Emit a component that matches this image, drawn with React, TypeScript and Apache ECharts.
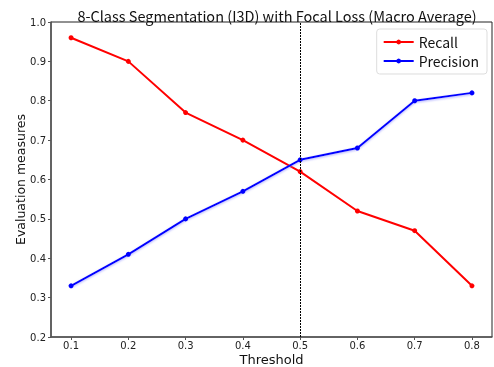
import React, { useEffect, useRef } from "react";
import * as echarts from "echarts";

const thresholds = [0.1, 0.2, 0.3, 0.4, 0.5, 0.6, 0.7, 0.8];
const recall = [0.96, 0.9, 0.77, 0.7, 0.62, 0.52, 0.47, 0.33];
const precision = [0.33, 0.41, 0.5, 0.57, 0.65, 0.68, 0.8, 0.82];
const xTicks = [0.1, 0.2, 0.3, 0.4, 0.5, 0.6, 0.7, 0.8];
const markerX = 0.5;

const FONT = "Noto Sans CJK JP";
const AXIS_FONT = "DejaVu Sans";

export default function App() {
  const ref = useRef<HTMLDivElement>(null);
  useEffect(() => {
    const chart = echarts.init(ref.current!, null, { renderer: "svg" });
    const pair = (ys: number[]) => thresholds.map((x, i) => [x, ys[i]]);
    chart.setOption({
      animation: false,
      textStyle: { fontFamily: FONT },
      title: {
        text: "8-Class Segmentation (I3D) with Focal Loss (Macro Average)",
        left: 272,
        textAlign: "center",
        top: 3,
        textStyle: { fontFamily: FONT, fontSize: 14.5, fontWeight: "normal", color: "#111" },
      },
      grid: {
        left: 51,
        right: 2,
        top: 22,
        bottom: 30,
        containLabel: false,
        outerBoundsMode: "none",
        show: true,
        borderColor: "#222",
        borderWidth: 1,
      },
      legend: {
        right: 7,
        top: 29,
        orient: "vertical",
        itemWidth: 30,
        itemHeight: 6,
        itemGap: 5,
        padding: [6, 8, 6, 6],
        borderColor: "#ddd",
        borderWidth: 1,
        borderRadius: 3,
        textStyle: { fontFamily: FONT, fontSize: 14, color: "#111" },
        data: ["Recall", "Precision"],
      },
      xAxis: {
        type: "value",
        min: 0.065,
        max: 0.835,
        name: "Threshold",
        nameLocation: "middle",
        nameGap: 22,
        nameMoveOverlap: false,
        nameTextStyle: {
          fontFamily: AXIS_FONT,
          fontSize: 13,
          lineHeight: 13,
          verticalAlign: "middle",
          color: "#111",
        },
        splitLine: { show: false },
        axisLine: { lineStyle: { color: "#555", width: 1.5 } },
        axisTick: { show: true, length: 3, customValues: xTicks, lineStyle: { color: "#555" } },
        axisLabel: {
          customValues: xTicks,
          fontFamily: AXIS_FONT,
          fontSize: 10,
          lineHeight: 10,
          color: "#222",
          margin: 3,
          formatter: (v: number) => v.toFixed(1),
        },
      },
      yAxis: {
        type: "value",
        min: 0.2,
        max: 1.0,
        interval: 0.1,
        name: "Evaluation measures",
        nameLocation: "middle",
        nameGap: 31,
        nameMoveOverlap: false,
        nameTextStyle: {
          fontFamily: AXIS_FONT,
          fontSize: 12.5,
          lineHeight: 13,
          verticalAlign: "middle",
          color: "#111",
        },
        splitLine: { show: false },
        axisLine: { show: true, lineStyle: { color: "#555", width: 1.5 } },
        axisTick: { show: true, length: 3, lineStyle: { color: "#555" } },
        axisLabel: {
          fontFamily: AXIS_FONT,
          fontSize: 10,
          color: "#222",
          margin: 5,
          formatter: (v: number) => v.toFixed(1),
        },
      },
      series: [
        {
          name: "Recall",
          type: "line",
          data: pair(recall),
          symbol: "circle",
          symbolSize: 5,
          lineStyle: { color: "#ff0000", width: 2 },
          itemStyle: { color: "#ff0000" },
          z: 3,
          markLine: {
            silent: true,
            symbol: ["none", "none"],
            label: { show: false },
            lineStyle: { color: "#000", type: [2, 1], width: 1 },
            data: [{ xAxis: markerX }],
          },
        },
        {
          name: "Precision",
          type: "line",
          data: pair(precision),
          symbol: "circle",
          symbolSize: 5,
          lineStyle: {
            color: "#0000ff",
            width: 2,
            shadowColor: "rgba(120,120,255,0.6)",
            shadowBlur: 2,
            shadowOffsetY: 1,
          },
          itemStyle: { color: "#0000ff" },
          z: 4,
        },
      ],
    });
    return () => chart.dispose();
  }, []);
  return (
    <div
      ref={ref}
      style={{ position: "fixed", left: 0, top: 0, width: 494, height: 367 }}
    />
  );
}
